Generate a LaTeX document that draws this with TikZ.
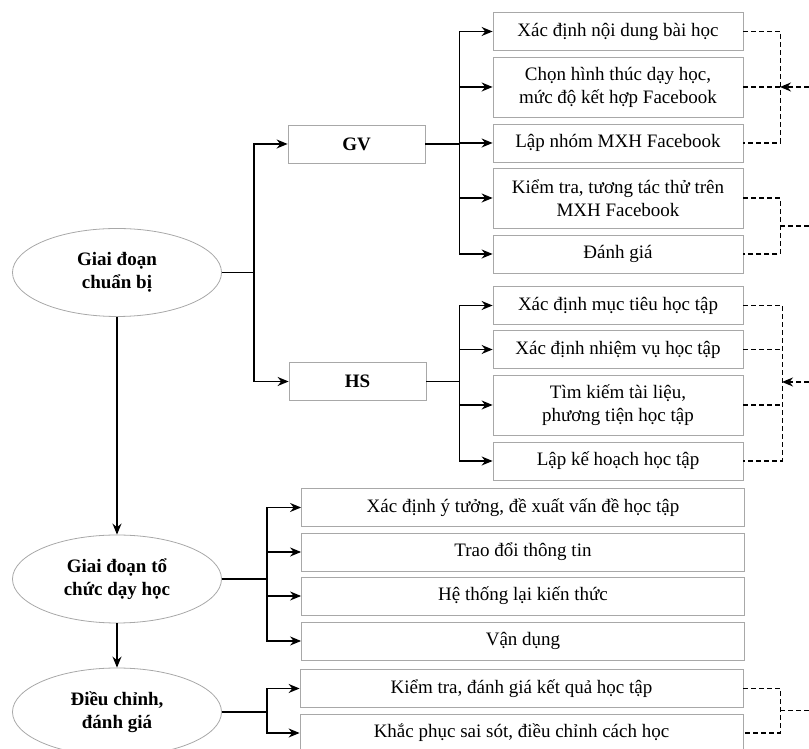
\documentclass[tikz,border=0pt]{standalone}
\usepackage{fontspec}
\setmainfont{Liberation Serif}
\usepackage{xcolor}
\usetikzlibrary{shapes.geometric, arrows.meta}
\definecolor{bordergray}{RGB}{168, 168, 168}

\begin{document}
\begin{tikzpicture}[
    x=1pt, y=1pt,
    stage/.style={ellipse, draw=bordergray, line width=0.8pt, minimum width=209pt,
                  minimum height=88pt, inner sep=0pt, align=center,
                  font=\fontsize{19}{23}\selectfont\bfseries},
    actor/.style={draw=bordergray, line width=0.8pt, minimum width=137pt,
                  minimum height=38pt, inner sep=0pt,
                  font=\fontsize{19}{23}\selectfont\bfseries},
    task/.style={draw=bordergray, line width=0.8pt, minimum width=250pt,
                 minimum height=38pt, inner sep=0pt, align=center,
                 font=\fontsize{19}{23}\selectfont},
    widetask/.style={task, minimum width=443pt},
    tall/.style={minimum height=60pt},
    link/.style={draw=black, line width=1.4pt, -{Stealth[length=11pt, width=9pt]}},
    feedback/.style={draw=black, line width=1.4pt, dash pattern=on 5pt off 3pt},
    feedbackarrow/.style={feedback, -{Stealth[length=11pt, width=9pt]}}
]
    \useasboundingbox (0,0) rectangle (809,749);

    % ==================== STAGES ====================
    \node[stage] (prep)  at (117,476.5) {Giai đoạn\\chuẩn bị};
    \node[stage] (teach) at (117,170)   {Giai đoạn tổ\\chức dạy học};
    \node[stage] (adjust) at (117,37)   {Điều chỉnh,\\đánh giá};

    % ==================== ACTORS ====================
    \node[actor] (gv) at (356.5,605)   {GV};
    \node[actor] (hs) at (357.5,367.5) {HS};

    % ==================== GV TASKS ====================
    \node[task] (gv1) at (618,717.5)     {Xác định nội dung bài học};
    \node[task, tall] (gv2) at (618,662) {Chọn hình thúc dạy học,\\mức độ kết hợp Facebook};
    \node[task] (gv3) at (618,606)       {Lập nhóm MXH Facebook};
    \node[task, tall] (gv4) at (618,551) {Kiểm tra, tương tác thử trên\\MXH Facebook};
    \node[task] (gv5) at (618,495)       {Đánh giá};

    % ==================== HS TASKS ====================
    \node[task] (hs1) at (618,443.5)     {Xác định mục tiêu học tập};
    \node[task] (hs2) at (618,399.5)     {Xác định nhiệm vụ học tập};
    \node[task, tall] (hs3) at (618,344) {Tìm kiếm tài liệu,\\phương tiện học tập};
    \node[task] (hs4) at (618,288)       {Lập kế hoạch học tập};

    % ==================== TEACHING TASKS ====================
    \node[widetask] (org1) at (523,241.5) {Xác định ý tưởng, đề xuất vấn đề học tập};
    \node[widetask] (org2) at (523,197)   {Trao đổi thông tin};
    \node[widetask] (org3) at (523,153)   {Hệ thống lại kiến thức};
    \node[widetask] (org4) at (523,108)   {Vận dụng};

    % ==================== ADJUSTMENT TASKS ====================
    \node[widetask] (adj1) at (521.5,60.5) {Kiểm tra, đánh giá kết quả học tập};
    \node[widetask] (adj2) at (521.5,16)   {Khắc phục sai sót, điều chỉnh cách học};

    % ==================== FEEDBACK POINTS ====================
    \coordinate (gvjoinB) at (780,523);
    \coordinate (gvoutA)  at (809,662);
    \coordinate (gvoutB)  at (809,523);
    \coordinate (hsjoin)  at (782,367);
    \coordinate (hsout)   at (809,367);
    \coordinate (adjjoin) at (780,38.5);
    \coordinate (adjout)  at (809,38.5);

    % ==================== FLOW ====================
    \draw[link] (prep) -- (teach);
    \draw[link] (teach) -- (adjust);
    \draw[link] (prep.east) -- ++(32,0) |- (gv.west);
    \draw[link] (prep.east) -- ++(32,0) |- (hs.west);
    \foreach \n in {gv1,gv2,gv3,gv4,gv5}
        \draw[link] (gv.east) -- ++(34,0) |- (\n.west);
    \foreach \n in {hs1,hs2,hs3,hs4}
        \draw[link] (hs.east) -- ++(33,0) |- (\n.west);
    \foreach \n in {org1,org2,org3,org4}
        \draw[link] (teach.east) -- ++(45,0) |- (\n.west);
    \foreach \n in {adj1,adj2}
        \draw[link] (adjust.east) -- ++(45,0) |- (\n.west);

    % ==================== FEEDBACK ====================
    % GV preparation group
    \draw[feedback] (gv1.east) -- ++(37,0) |- (gv3.east);
    \draw[feedback] (gv2.east) -- ++(37,0);
    \draw[feedbackarrow] (gvoutA) -- ++(-29,0);
    % GV checking group
    \draw[feedback] (gv4.east) -- ++(37,0) |- (gv5.east);
    \draw[feedback] (gvjoinB) -- (gvoutB);
    % HS group
    \draw[feedback] (hs1.east) -- ++(39,0) |- (hs4.east);
    \draw[feedback] (hs2.east) -- ++(39,0);
    \draw[feedback] (hs3.east) -- ++(39,0);
    \draw[feedbackarrow] (hsout) -- (hsjoin);
    % Adjustment group
    \draw[feedback] (adj1.east) -- ++(37,0) |- (adj2.east);
    \draw[feedback] (adjjoin) -- (adjout);
\end{tikzpicture}
\end{document}
